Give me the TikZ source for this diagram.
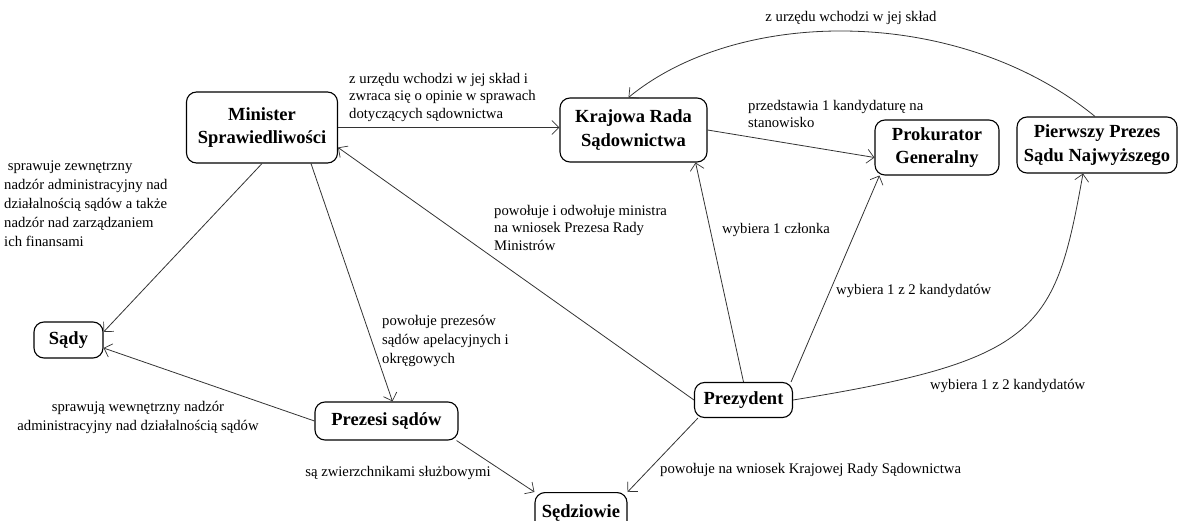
\documentclass[tikz,border=0pt]{standalone}
\usepackage{fontspec}
\setmainfont{Liberation Serif}
\usetikzlibrary{arrows.meta}
\begin{document}
\begin{tikzpicture}[x=1pt,y=-1pt,
  box/.style={draw=black, line width=1.1pt, rounded corners=10pt,
    font=\fontsize{18.5}{23.5}\selectfont\bfseries, align=center, inner sep=0pt},
  conn/.style={draw=black!80, line width=0.8pt},
  arr/.style={conn, -{Straight Barb[length=7pt,width=14pt,line width=0.7pt]}},
  lbl/.style={font=\fontsize{14.7}{17.5}\selectfont, inner sep=0pt, align=left},
  lblw/.style={font=\fontsize{14.7}{19}\selectfont, inner sep=0pt, align=left},
]
\useasboundingbox (0,0) rectangle (1180,521);

% nodes
\node[box, minimum width=151pt, minimum height=71pt] (min) at (262,127.5) {Minister\\Sprawiedliwości};
\node[box, minimum width=147pt, minimum height=64pt] (krs) at (633.5,130) {Krajowa Rada\\Sądownictwa};
\node[box, minimum width=124pt, minimum height=55pt] (prok) at (937,147.5) {Prokurator\\Generalny};
\node[box, minimum width=160pt, minimum height=56pt] (pier) at (1097,145) {Pierwszy Prezes\\Sądu Najwyższego};
\node[box, minimum width=69pt, minimum height=36pt] (sady) at (68.5,340) {Sądy};
\node[box, minimum width=143pt, minimum height=38pt] (prez) at (386.5,421) {Prezesi sądów};
\node[box, minimum width=98pt, minimum height=35pt] (pres) at (743.5,400) {Prezydent};
\node[box, minimum width=92pt, minimum height=44pt, anchor=north] (sedz) at (581,492) {\raisebox{6pt}{Sędziowie}};

% connectors
\draw[arr] (min.east) -- (krs.west |- min.east);
\draw[arr] (krs.east) -- ([yshift=-10pt]prok.west);
\draw[arr] ([xshift=-2pt]pier.north) .. controls (960,6) and (740,6) .. ([xshift=-5pt]krs.north);
\draw[arr] (min.south) -- ([yshift=8pt]sady.east);
\draw[arr] ([xshift=49pt]min.south) -- ([xshift=6pt]prez.north);
\draw[arr] (prez.west) -- ([yshift=-8pt]sady.east);
\draw[arr] ([xshift=-2pt]prez.south east) -- (sedz.north west);
\draw[arr] (pres.west) -- ([yshift=-20pt]min.east);
\draw[arr] (pres.north) -- ([xshift=-12pt]krs.south east);
\draw[arr] ([xshift=-2pt]pres.north east) -- ([xshift=5pt]prok.south west);
\draw[arr] (pres.east) .. controls (1040,360) and (1055,330) .. ([xshift=-14pt]pier.south);
\draw[arr] ([xshift=4pt]pres.south west) -- (sedz.north east);

% labels
\node[lbl, anchor=north west] (l1) at (349,73) {z urzędu wchodzi w jej skład i\\zwraca się o opinie w sprawach\\dotyczących sądownictwa};
\node[lbl, anchor=base] (l2) at (851,21.5) {z urzędu wchodzi w jej skład};
\node[lbl, anchor=north west] (l3) at (748,100) {przedstawia 1 kandydaturę na\\stanowisko};
\node[lblw, anchor=north west] (l4) at (4,161) {\ sprawuje zewnętrzny\\nadzór administracyjny nad\\działalnością sądów a także\\nadzór nad zarządzaniem\\ich finansami};
\node[lbl, anchor=north west] (l5) at (494,205) {powołuje i odwołuje ministra\\na wniosek Prezesa Rady\\Ministrów};
\node[lblw, anchor=north west] (l6) at (382,315) {powołuje prezesów\\sądów apelacyjnych i\\okręgowych};
\node[lblw, anchor=north, align=center] (l7) at (138,401) {sprawują wewnętrzny nadzór\\administracyjny nad działalnością sądów};
\node[lbl, anchor=base] (l8) at (398,476.5) {są zwierzchnikami służbowymi};
\node[lbl, anchor=base west] (l9) at (660,473.5) {powołuje na wniosek Krajowej Rady Sądownictwa};
\node[lbl, anchor=base west] (l10) at (722,233.5) {wybiera 1 członka};
\node[lbl, anchor=base west] (l11) at (836,294.5) {wybiera 1 z 2 kandydatów};
\node[lbl, anchor=base west] (l12) at (930,389.5) {wybiera 1 z 2 kandydatów};
\end{tikzpicture}
\end{document}
